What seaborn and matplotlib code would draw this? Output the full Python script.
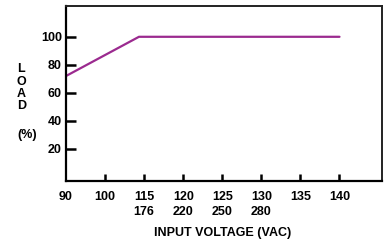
import matplotlib
matplotlib.use("Agg")
import matplotlib.pyplot as plt
import numpy as np
import pandas as pd
import seaborn as sns

sns.set_theme(style="white")
plt.rcParams["font.family"] = ["Liberation Sans", "DejaVu Sans"]
plt.rcParams["text.color"] = "black"
plt.rcParams["xtick.color"] = "black"
plt.rcParams["ytick.color"] = "black"

# tick voltages (low line) and their high-line counterparts
tensao_ticks = [90, 100, 115, 120, 125, 130, 135, 140]
tensao_alta = ["", "", "176", "220", "250", "280", "", ""]
carga_ticks = [20, 40, 60, 80, 100]

# derating curve
tensao_curva = [90, 113, 140]
carga_curva = [72, 100, 100]

# the x axis is drawn evenly spaced per tick
posicoes = np.arange(len(tensao_ticks))
df = pd.DataFrame({
    "pos": np.interp(tensao_curva, tensao_ticks, posicoes),
    "carga": carga_curva,
})

fig = plt.figure(figsize=(3.84, 2.40), dpi=100)
ax = fig.add_axes([0.172, 0.246, 0.824, 0.729])

sns.lineplot(data=df, x="pos", y="carga", color="#9b2a8f", linewidth=1.6, ax=ax)

ax.set_xlim(0, 8.1)
ax.set_ylim(-3, 122)

rotulos = [f"{v}\n{a}" if a else str(v) for v, a in zip(tensao_ticks, tensao_alta)]
ax.set_xticks(posicoes)
ax.set_xticklabels(rotulos, fontsize=9, fontweight="bold", linespacing=1.35)
ax.set_yticks(carga_ticks)
ax.set_yticklabels([str(c) for c in carga_ticks], fontsize=9, fontweight="bold")

ax.tick_params(axis="x", bottom=True, direction="in", length=5, width=1.8, pad=7)
ax.tick_params(axis="y", left=True, direction="in", length=7, width=1.8, pad=3)
# the tick at 90 is hidden by the left spine
ax.xaxis.get_major_ticks()[0].tick1line.set_visible(False)

for lado in ["left", "bottom"]:
    ax.spines[lado].set_color("black")
    ax.spines[lado].set_linewidth(1.6)
for lado in ["top", "right"]:
    ax.spines[lado].set_color("#222222")
    ax.spines[lado].set_linewidth(1.4)

ax.set_xlabel("")
ax.set_ylabel("")

fig.text(0.58, 0.028, "INPUT VOLTAGE (VAC)", ha="center", va="center", fontsize=9, fontweight="bold")
fig.text(0.044, 0.635, "L\nO\nA\nD", ha="left", va="center", fontsize=9, fontweight="bold", linespacing=1.02)
fig.text(0.044, 0.437, "(%)", ha="left", va="center", fontsize=9, fontweight="bold")

fig.savefig("out.png", dpi=100)
